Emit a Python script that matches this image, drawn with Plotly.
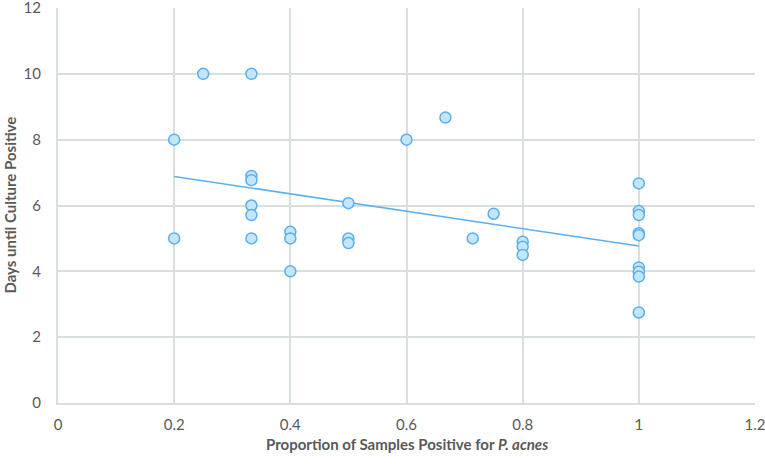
import numpy as np
import plotly.graph_objects as go

# proportion of samples positive vs days until culture positive
prop = [0.2, 0.2, 0.25, 0.333, 0.333, 0.333, 0.333, 0.333, 0.333,
        0.4, 0.4, 0.4, 0.5, 0.5, 0.5, 0.6, 0.667, 0.714, 0.75,
        0.8, 0.8, 0.8,
        1.0, 1.0, 1.0, 1.0, 1.0, 1.0, 1.0, 1.0, 1.0]
days = [8.0, 5.0, 10.0, 10.0, 6.9, 6.77, 6.0, 5.71, 5.0,
        5.2, 5.0, 4.0, 6.07, 5.0, 4.86, 8.0, 8.67, 5.0, 5.75,
        4.9, 4.75, 4.5,
        6.67, 5.83, 5.71, 5.16, 5.1, 4.12, 3.99, 3.84, 2.75]

# linear trendline (like the spreadsheet one)
k, b = np.polyfit(prop, days, 1)
trend_x = [min(prop), max(prop)]
trend_y = [k * v + b for v in trend_x]

grey = "#595959"
grid = "#d9dfde"

fig = go.Figure()
fig.add_trace(go.Scatter(x=trend_x, y=trend_y, mode="lines",
                         line=dict(color="#5db0ef", width=1.6),
                         hoverinfo="skip", showlegend=False))
fig.add_trace(go.Scatter(x=prop, y=days, mode="markers",
                         marker=dict(size=11, color="#c4e6fc",
                                     line=dict(color="#5aaef0", width=1.5)),
                         showlegend=False))

fig.update_layout(
    width=765, height=468,
    margin=dict(l=58, r=10, t=8, b=65),
    plot_bgcolor="white", paper_bgcolor="white",
    font=dict(family="Lato, Open Sans, sans-serif", color=grey, size=15),
)
fig.update_xaxes(range=[0, 1.2], dtick=0.2, tickformat="~g", automargin=False,
                 showgrid=True, gridcolor=grid, gridwidth=2,
                 showline=True, linecolor=grid, linewidth=2,
                 zeroline=False, ticks="", ticklabelstandoff=7,
                 ticklabeloverflow="allow")
fig.update_yaxes(range=[0, 12], dtick=2, automargin=False,
                 showgrid=True, gridcolor=grid, gridwidth=2,
                 showline=True, linecolor=grid, linewidth=2,
                 zeroline=False, ticks="", ticklabelstandoff=12,
                 ticklabeloverflow="allow")

# axis titles placed as annotations
fig.add_annotation(text="<b>Proportion of Samples Positive for <i>P. acnes</i></b>",
                   xref="paper", yref="paper", x=0.5, y=0, yshift=-41,
                   yanchor="middle", showarrow=False,
                   font=dict(size=15, color=grey))
fig.add_annotation(text="<b>Days until Culture Positive</b>",
                   xref="paper", yref="paper", x=0, xshift=-49, y=0.5,
                   xanchor="center", textangle=-90, showarrow=False,
                   font=dict(size=15, color=grey))

# page body has a default 8px margin; drop it so the chart sits at 0,0
fig.write_html("out.html", config={"displayModeBar": False},
               post_script="document.body.style.margin='0';")
